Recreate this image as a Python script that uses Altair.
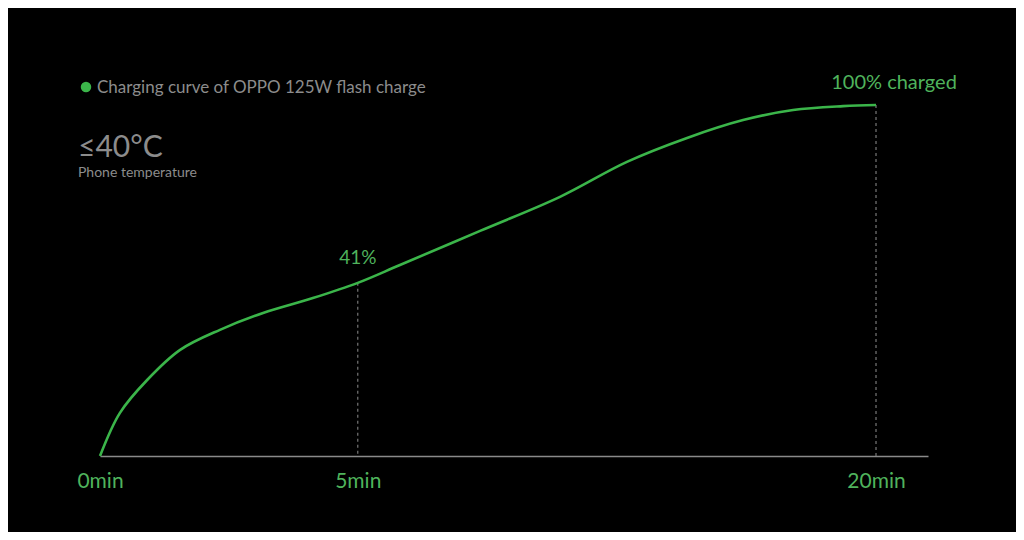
import altair as alt
import pandas as pd

# curve (minutes, percent charged)
minutes = [0, 0.20, 0.59, 1.15, 1.91, 2.81, 3.93, 5.0, 6.05, 8.15, 10.36, 12.29, 14.08, 15.79, 17.35, 18.94, 20.0]
percent = [0, 7.1, 14.5, 22.1, 27.5, 32.2, 36.5, 41.0, 46.4, 57.1, 68.2, 80.0, 88.3, 94.6, 98.2, 99.6, 100.0]
series_name = ["Charging curve of OPPO 125W flash charge"]

mark_minutes = [5, 20]
mark_percent = [41, 100]
mark_base = [0, 0]
mark_labels = ["41%", "100% charged"]
tick_values = [0, 5, 20]
temp_text = ["≤40°C"]
temp_caption = ["Phone temperature"]

GREEN_LINE = "#3bb54a"
GREEN_TEXT = "#4fb35c"
GRAY = "#8c8c8c"
FONT = "Lato"

curve = pd.DataFrame({"t": minutes, "pct": percent})
marks = pd.DataFrame({"t": mark_minutes, "pct": mark_percent, "base": mark_base, "label": mark_labels})
mark_a = marks.iloc[[0]]
mark_b = marks.iloc[[1]]
notes = pd.DataFrame({"big": temp_text, "small": temp_caption, "series": series_name})

xscale = alt.Scale(type="pow", exponent=0.795, domain=[0, 21.7], nice=False)
yscale = alt.Scale(type="pow", exponent=0.7925, domain=[0, 100], nice=False)
xaxis = alt.Axis(values=tick_values, labelExpr="datum.value + 'min'", title=None,
                 grid=False, ticks=False, domainColor="#8a8a8a", domainWidth=1.5,
                 labelColor=GREEN_TEXT, labelFontSize=21, labelFont=FONT, labelPadding=14,
                 labelFlush=False)


def X():
    return alt.X("t:Q", scale=xscale, axis=xaxis)


def Y():
    return alt.Y("pct:Q", scale=yscale, axis=None)


line = alt.Chart(curve).mark_line(strokeWidth=2.6, interpolate="catmull-rom", color=GREEN_LINE).encode(
    x=X(), y=Y())

rules = alt.Chart(marks).mark_rule(color="#777777", strokeDash=[3, 3], strokeWidth=1.2).encode(
    x=X(), y=Y(), y2="base:Q")

lbl_a = alt.Chart(mark_a).mark_text(color=GREEN_TEXT, fontSize=19, font=FONT, dy=-25).encode(
    x=X(), y=Y(), text="label:N")
lbl_b = alt.Chart(mark_b).mark_text(color=GREEN_TEXT, fontSize=20, font=FONT, dy=-22, dx=18).encode(
    x=X(), y=Y(), text="label:N")

dot = alt.Chart(notes).mark_circle(size=110, color=GREEN_LINE, opacity=1).encode(
    x=alt.value(-14), y=alt.value(-18))
legend_txt = alt.Chart(notes).mark_text(color=GRAY, fontSize=17, font=FONT, align="left",
                                        baseline="middle").encode(
    x=alt.value(-3), y=alt.value(-17), text="series:N")
big = alt.Chart(notes).mark_text(color=GRAY, fontSize=30, font=FONT, align="left",
                                 baseline="alphabetic").encode(
    x=alt.value(-22), y=alt.value(52), text="big:N")
small = alt.Chart(notes).mark_text(color=GRAY, fontSize=14, font=FONT, align="left",
                                   baseline="alphabetic").encode(
    x=alt.value(-22), y=alt.value(72), text="small:N")

chart = alt.layer(rules, line, lbl_a, lbl_b, dot, legend_txt, big, small).properties(
    width=828, height=351,
    background="#000000",
    padding={"left": 92, "top": 97, "right": 88, "bottom": 76},
    autosize=alt.AutoSizeParams(type="none"),
).configure_view(strokeWidth=0)

chart.save("out.html", embed_options={"renderer": "svg", "actions": False})
